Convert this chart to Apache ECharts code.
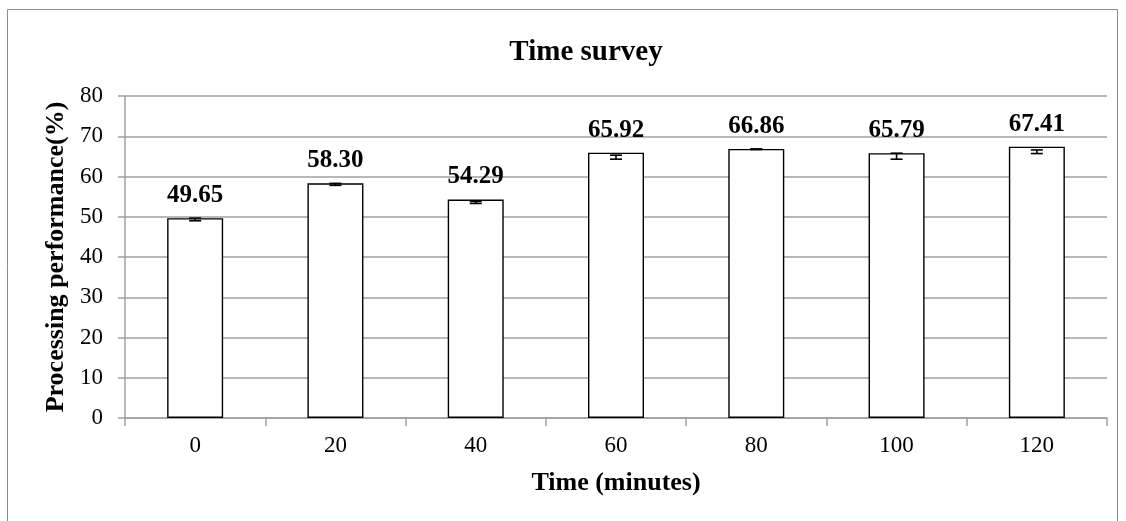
<!DOCTYPE html>
<html><head><meta charset="utf-8">
<script src="https://cdn.jsdelivr.net/npm/echarts@6/dist/echarts.min.js"></script>
<style>html,body{margin:0;padding:0;background:#fff}#c{width:1126px;height:521px}</style>
</head><body><div id="c"></div>
<script>
const categories = ['0','20','40','60','80','100','120'];
const values = [49.65, 58.30, 54.29, 65.92, 66.86, 65.79, 67.41];
const errLow = [49.0, 57.8, 53.3, 64.3, 66.7, 64.3, 65.7];
const errHigh = [49.65, 58.3, 53.8, 65.3, 66.86, 65.79, 66.6];
const yTicks = [0,10,20,30,40,50,60,70,80];

const F = '"Liberation Serif","Times New Roman",serif';
const chart = echarts.init(document.getElementById('c'));
chart.setOption({
  animation: false,
  backgroundColor: '#fff',
  graphic: [{type:'rect', shape:{x:7.5,y:9.5,width:1110,height:530}, style:{fill:'none',stroke:'#8c8c8c',lineWidth:1}, silent:true}],
  title: {text:'Time survey', left:581, top:33, textAlign:'center',
    textStyle:{fontFamily:F, fontSize:29, fontWeight:'bold', color:'#000'}},
  grid: {left:125, right:19, top:96, bottom:103},
  xAxis: {type:'category', data:categories, name:'Time (minutes)', nameLocation:'middle', nameGap:52,
    nameTextStyle:{fontFamily:F, fontSize:26, fontWeight:'bold', color:'#000'},
    axisLine:{lineStyle:{color:'#a0a0a0', width:1.5}},
    axisTick:{show:true, length:8, alignWithLabel:false, lineStyle:{color:'#a0a0a0', width:1.5}},
    axisLabel:{fontFamily:F, fontSize:23, color:'#000', margin:16}},
  yAxis: {type:'value', min:0, max:80, interval:10, name:'Processing performance(%)', nameLocation:'middle', nameGap:56,
    nameTextStyle:{fontFamily:F, fontSize:26, fontWeight:'bold', color:'#000'},
    axisLine:{show:true, lineStyle:{color:'#a0a0a0', width:1.5}},
    axisTick:{show:true, length:7, lineStyle:{color:'#a0a0a0', width:1.5}},
    axisLabel:{fontFamily:F, fontSize:23, color:'#000', margin:22,
      formatter: v => yTicks.includes(v) ? String(v) : ''},
    splitLine:{lineStyle:{color:'#a0a0a0', width:1.5}}},
  series: [
    {type:'bar', data:values, barWidth:56,
     itemStyle:{color:'#fff', borderColor:'#000', borderWidth:1.4},
     label:{show:true, position:'top', distance:10, formatter: p => p.value.toFixed(2),
       fontFamily:F, fontSize:25, fontWeight:'bold', color:'#000'}},
    {type:'custom', data: categories.map((c,i)=>[i, errLow[i], errHigh[i]]), z:10,
     renderItem: function(params, api){
       const x = api.value(0);
       const lo = api.coord([x, api.value(1)]);
       const hi = api.coord([x, api.value(2)]);
       const w = 6;
       const st = {stroke:'#000', lineWidth:1.6};
       return {type:'group', children:[
         {type:'line', shape:{x1:lo[0],y1:lo[1],x2:hi[0],y2:hi[1]}, style:st},
         {type:'line', shape:{x1:lo[0]-w,y1:lo[1],x2:lo[0]+w,y2:lo[1]}, style:st},
         {type:'line', shape:{x1:hi[0]-w,y1:hi[1],x2:hi[0]+w,y2:hi[1]}, style:st}
       ]};
     }}
  ]
});
</script></body></html>
